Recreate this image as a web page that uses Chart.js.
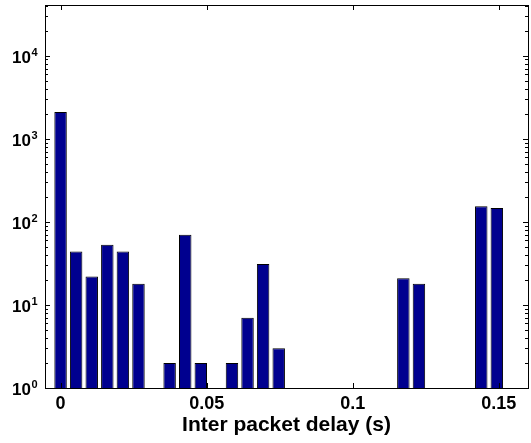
<!DOCTYPE html>
<html>
<head>
<meta charset="utf-8">
<script src="https://cdn.jsdelivr.net/npm/chart.js@4.4.1/dist/chart.umd.min.js"></script>
<style>
  body { margin: 0; background: #fff; }
  canvas { display: block; }
</style>
</head>
<body>
<canvas id="delayChart" width="531" height="443"></canvas>
<script>
// histogram bins (s) and packet counts per bin, empty bins are null
const binCenters = [0, 0.00533, 0.01067, 0.016, 0.02133, 0.02667, 0.032, 0.03733, 0.04267, 0.048,
                    0.05333, 0.05867, 0.064, 0.06933, 0.07467, 0.08, 0.08533, 0.09067, 0.096, 0.10133,
                    0.10667, 0.112, 0.11733, 0.12267, 0.128, 0.13333, 0.13867, 0.144, 0.14933, 0.15467];
const counts = [2100, 44, 22, 53, 44, 18, null, 2, 70, 2,
                null, 2, 7, 31, 3, null, null, null, null, null,
                null, null, 21, 18, null, null, null, 154, 147, null];

const xTicks = [0, 0.05, 0.1, 0.15];
const yTicks = [1, 10, 100, 1000, 10000];
const xRange = [-0.00533, 0.16];
const yRange = [1, 40700];

const FONT = "'Liberation Sans', Arial, Helvetica, sans-serif";

// matlab style box: frame, inward ticks on all sides, log minor ticks, 10^n labels
const boxPlugin = {
    id: "boxPlugin",
    afterDraw(chart) {
        const { ctx, chartArea: a, scales: { x, y } } = chart;
        ctx.save();
        ctx.strokeStyle = "#000";
        ctx.lineWidth = 1;
        ctx.beginPath();

        xTicks.forEach(v => {
            const px = Math.round(x.getPixelForValue(v)) + 0.5;
            ctx.moveTo(px, a.bottom); ctx.lineTo(px, a.bottom - 5);
            ctx.moveTo(px, a.top); ctx.lineTo(px, a.top + 5);
        });

        for (let d = 1; d <= 10000; d *= 10) {
            for (let m = 1; m <= 9; m++) {
                const v = d * m;
                if (v > yRange[1]) break;
                const len = m === 1 ? 5 : 3;
                const py = Math.round(y.getPixelForValue(v)) + 0.5;
                ctx.moveTo(a.left, py); ctx.lineTo(a.left + len, py);
                ctx.moveTo(a.right, py); ctx.lineTo(a.right - len, py);
            }
        }
        ctx.stroke();

        ctx.strokeRect(Math.round(a.left) + 0.5, Math.round(a.top) + 0.5,
                       Math.round(a.right - a.left), Math.round(a.bottom - a.top));

        // y labels with superscript exponent
        ctx.fillStyle = "#000";
        ctx.textAlign = "left";
        ctx.textBaseline = "alphabetic";
        yTicks.forEach(v => {
            const py = y.getPixelForValue(v);
            const exp = String(Math.round(Math.log10(v)));
            ctx.font = "bold 17px " + FONT;
            const wBase = ctx.measureText("10").width;
            ctx.font = "bold 11px " + FONT;
            const wExp = ctx.measureText(exp).width;
            const x0 = 37 - wBase - wExp;
            ctx.font = "bold 17px " + FONT;
            ctx.fillText("10", x0, py + 7);
            ctx.font = "bold 11px " + FONT;
            ctx.fillText(exp, x0 + wBase + 0.5, py);
        });
        ctx.restore();
    }
};

new Chart(document.getElementById("delayChart"), {
    type: "bar",
    data: {
        datasets: [{
            data: binCenters.map((c, i) => ({ x: c, y: counts[i] })),
            backgroundColor: "#00008f",
            borderColor: "#000",
            borderWidth: 1,
            barPercentage: 0.8,
            categoryPercentage: 1
        }]
    },
    options: {
        responsive: false,
        animation: false,
        layout: { padding: { top: 5, right: 3, left: 0, bottom: 0 } },
        plugins: { legend: { display: false }, tooltip: { enabled: false } },
        scales: {
            x: {
                type: "linear",
                min: xRange[0],
                max: xRange[1],
                offset: false,
                grid: { display: false, drawTicks: false },
                border: { display: false },
                afterBuildTicks: s => { s.ticks = xTicks.map(v => ({ value: v })); },
                afterFit: s => { s.height = 55; },
                ticks: {
                    color: "#000",
                    padding: 5,
                    maxRotation: 0,
                    font: { family: FONT, size: 18, weight: "bold" },
                    callback: v => String(v)
                },
                title: {
                    display: true,
                    text: "Inter packet delay (s)",
                    color: "#000",
                    font: { family: FONT, size: 21, weight: "bold" },
                    padding: { top: 0, bottom: 5 }
                }
            },
            y: {
                type: "logarithmic",
                min: yRange[0],
                max: yRange[1],
                grid: { display: false, drawTicks: false },
                border: { display: false },
                afterBuildTicks: s => { s.ticks = yTicks.map(v => ({ value: v })); },
                afterFit: s => { s.width = 45; },
                ticks: { display: false }
            }
        }
    },
    plugins: [boxPlugin]
});
</script>
</body>
</html>
